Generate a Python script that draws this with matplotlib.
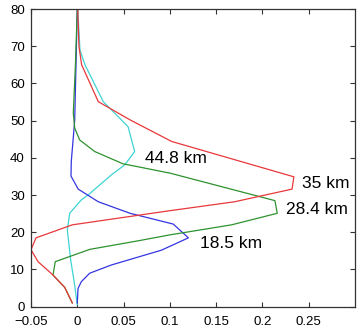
import matplotlib
matplotlib.use("Agg")
import matplotlib.pyplot as plt

plt.rcParams['font.family'] = ['Liberation Sans', 'DejaVu Sans']

# profiles: (x value, altitude km)
red_x = [-0.0054, -0.0136, -0.0262, -0.0424, -0.050, -0.0446, -0.0054, 0.100, 0.170, 0.232, 0.234, 0.102, 0.057, 0.0227, 0.0047, 0.0018, 0.0005]
red_y = [1, 5.2, 8.5, 12.1, 15.3, 18.5, 22.0, 25.8, 28.2, 31.6, 34.9, 44.4, 50.2, 55.1, 65, 70, 80]

green_x = [-0.0054, -0.0136, -0.0262, -0.0238, 0.0134, 0.0656, 0.100, 0.1667, 0.216, 0.2135, 0.100, 0.0494, 0.0188, 0.0026, -0.0028, -0.0043, -0.002, 0.0]
green_y = [1, 5.2, 8.5, 12.1, 15.4, 17.7, 19.3, 22.0, 25.1, 28.5, 35.9, 38.4, 41.7, 44.8, 48, 52, 65, 80]

blue_x = [0.0, 0.0008, 0.0043, 0.0134, 0.0367, 0.091, 0.120, 0.1037, 0.057, 0.0227, 0.001, -0.0068, -0.0065, -0.0028, 0.0]
blue_y = [1, 4.9, 6.7, 9.0, 11.2, 15.2, 18.5, 22.2, 25.1, 28.2, 31.6, 35.1, 39, 50, 80]

cyan_x = [0.0, -0.0028, -0.0071, -0.0108, -0.0082, 0.0043, 0.0116, 0.0367, 0.0512, 0.062, 0.0548, 0.0281, 0.0083, 0.0029, 0.0005]
cyan_y = [0.5, 5.8, 12.5, 20.6, 25.1, 28.7, 30, 35.4, 38.1, 41.7, 48.4, 55.1, 65, 69, 80]

labels = ["44.8 km", "35 km", "28.4 km", "18.5 km"]
label_x = [0.0731, 0.2426, 0.2254, 0.1325]
label_y = [39.9, 33.2, 26.2, 17.0]

xticks = [-0.05, 0, 0.05, 0.1, 0.15, 0.2, 0.25]
xtick_labels = ["\u22120.05", "0", "0.05", "0.1", "0.15", "0.2", "0.25"]
yticks = list(range(0, 81, 10))

fig = plt.figure(figsize=(3.59, 3.28), dpi=100)
ax = fig.add_axes([31 / 359, 21.3 / 328, 324 / 359, 297.7 / 328])

lw = 0.9
ax.plot(cyan_x, cyan_y, color="#3fd3d3", lw=lw)
ax.plot(blue_x, blue_y, color="#3535e0", lw=lw)
ax.plot(green_x, green_y, color="#2f922f", lw=lw)
ax.plot(red_x, red_y, color="#e8383a", lw=lw)

for t, x, y in zip(labels, label_x, label_y):
    ax.text(x, y, t, fontsize=12.5, ha="left", va="center")

ax.set_xlim(-0.05, 0.3)
ax.set_ylim(0, 80)
ax.set_xticks(xticks)
ax.set_xticklabels(xtick_labels)
ax.set_yticks(yticks)
ax.tick_params(direction="in", top=True, right=True, length=3.5, width=0.8,
               labelsize=9.5, color="#333333")
ax.tick_params(axis="x", pad=6.5)
ax.tick_params(axis="y", pad=4.5)
for s in ax.spines.values():
    s.set_linewidth(0.9)
    s.set_color("#333333")

fig.savefig("out.png", dpi=100)
